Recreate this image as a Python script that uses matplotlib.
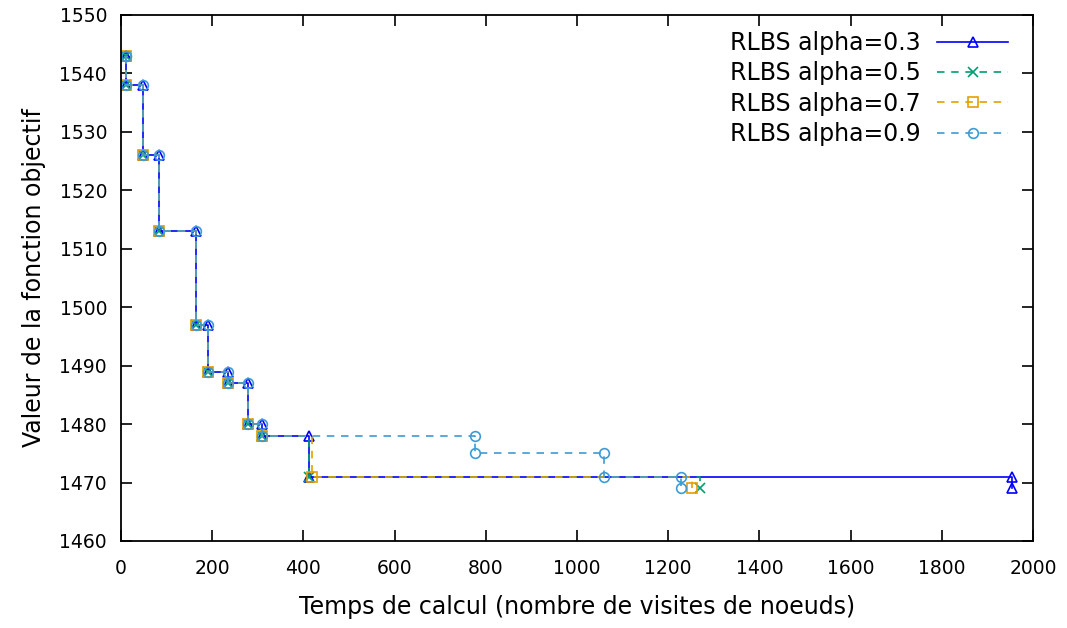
#!/usr/bin/env python3
# coding: utf-8

import matplotlib
matplotlib.use('Agg')
import matplotlib.pyplot as plt

# Best objective value found vs. computing time (node visits), per alpha
t_03 = [10, 10, 48, 83, 164, 191, 234, 278, 309, 412, 1953]
v_03 = [1543, 1538, 1526, 1513, 1497, 1489, 1487, 1480, 1478, 1471, 1469]

t_05 = [10, 10, 48, 83, 164, 191, 234, 278, 309, 412, 1270]
v_05 = [1543, 1538, 1526, 1513, 1497, 1489, 1487, 1480, 1478, 1471, 1469]

t_07 = [10, 10, 48, 83, 164, 191, 234, 278, 309, 419, 1252]
v_07 = [1543, 1538, 1526, 1513, 1497, 1489, 1487, 1480, 1478, 1471, 1469]

t_09 = [10, 10, 48, 83, 164, 191, 234, 278, 309, 776, 1060, 1229]
v_09 = [1543, 1538, 1526, 1513, 1497, 1489, 1487, 1480, 1478, 1475, 1471, 1469]

labels = ['RLBS alpha=0.3', 'RLBS alpha=0.5', 'RLBS alpha=0.7', 'RLBS alpha=0.9']
colors = ['#0000ff', '#009e73', '#e69f00', '#3d9bd6']

x_ticks = list(range(0, 2001, 200))
y_ticks = list(range(1460, 1551, 10))


def corners(ts, vs):
    # expand a step series into its corner points so both ends of each drop get a marker
    xs, ys = [ts[0]], [vs[0]]
    for i in range(1, len(ts)):
        xs += [ts[i], ts[i]]
        ys += [vs[i-1], vs[i]]
    return xs, ys


plt.rcParams['font.family'] = ['DejaVu Sans']

fig = plt.figure(figsize=(10.67, 6.28), dpi=100)
ax = fig.add_axes([121/1067, 1-541/628, (1033-121)/1067, (541-15)/628])

lw = 1.2
ms = 7
dash = (0, (4.5, 4))
x, y = corners(t_03, v_03)
ax.plot(x, y, color=colors[0], lw=lw, marker='^', ms=ms, mfc='none', mew=1.2,
        label=labels[0])
ax.plot(t_05, v_05, color=colors[1], lw=lw, ls=dash, drawstyle='steps-post',
        marker='x', ms=ms, mew=1.2, label=labels[1])
ax.plot(t_07, v_07, color=colors[2], lw=lw, ls=dash, drawstyle='steps-post',
        marker='s', ms=ms, mfc='none', mew=1.2, label=labels[2])
x, y = corners(t_09, v_09)
ax.plot(x, y, color=colors[3], lw=lw, ls=dash, marker='o', ms=ms,
        mfc='none', mew=1.2, label=labels[3])

ax.set_xlim(0, 2000)
ax.set_ylim(1460, 1550)
ax.set_xticks(x_ticks)
ax.set_yticks(y_ticks)
ax.tick_params(direction='in', length=8, width=1.2, top=True, right=True,
               labelsize=13.5)
ax.tick_params(axis='x', pad=13)
ax.tick_params(axis='y', pad=10)
for s in ax.spines.values():
    s.set_linewidth(1.3)

ax.set_xlabel('Temps de calcul (nombre de visites de noeuds)', fontsize=17, labelpad=12)
ax.set_ylabel('Valeur de la fonction objectif', fontsize=17, labelpad=10)

ax.legend(loc='upper right', bbox_to_anchor=(1008/1067, 1-31/628),
          bbox_transform=fig.transFigure, frameon=False, markerfirst=False,
          fontsize=17, handlelength=3.0, handletextpad=0.7, labelspacing=0.27,
          borderpad=0, borderaxespad=0)

fig.savefig('out.png', dpi=100)
